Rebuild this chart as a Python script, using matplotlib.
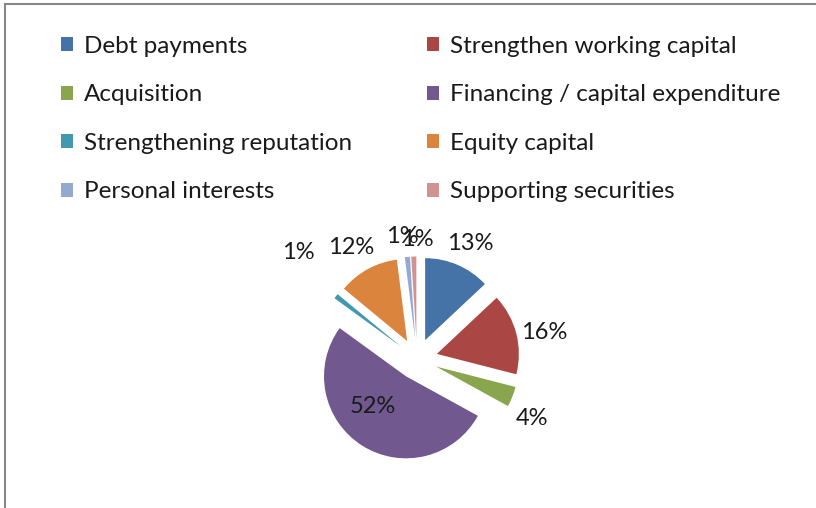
import numpy as np
import matplotlib
matplotlib.use("Agg")
import matplotlib.pyplot as plt
from matplotlib.patches import Rectangle

plt.rcParams['font.family'] = ['Lato', 'DejaVu Sans']

# data
labels = ["Debt payments", "Strengthen working capital", "Acquisition",
          "Financing / capital expenditure", "Strengthening reputation",
          "Equity capital", "Personal interests", "Supporting securities"]
shares = [13, 16, 4, 52, 1, 12, 1, 1]
colors = ["#4572A7", "#AA4643", "#89A54E", "#71588F",
          "#4198AF", "#DB843D", "#93A9CF", "#D19392"]

# label placement: distance from slice tip (radius units) and angle nudge (deg, clockwise)
label_dist = [1.30, 1.34, 1.33, 0.55, 1.70, 1.33, 1.26, 1.21]
label_nudge = [1.5, 3, 7, 15, 4.6, -1.8, -1.7, 2.4]

W, H = 816, 508
fig = plt.figure(figsize=(W / 100, H / 100), dpi=100)

# pie: centre at (417, 359) px, radius 82 px
r_px = 82
half = 150
ax = fig.add_axes([(417 - half) / W, (H - 359 - half) / H, 2 * half / W, 2 * half / H])
wedges, _ = ax.pie(shares, colors=colors, startangle=90, counterclock=False,
                   explode=[0.25] * len(shares), radius=1)
ax.set_xlim(-half / r_px, half / r_px)
ax.set_ylim(-half / r_px, half / r_px)
ax.set_aspect('equal')
ax.axis('off')

for w, s, d, n in zip(wedges, shares, label_dist, label_nudge):
    mid = np.deg2rad((w.theta1 + w.theta2) / 2 - n)
    cx, cy = w.center
    ax.text(cx + d * np.cos(mid), cy + d * np.sin(mid), f"{s}%",
            ha='center', va='center', fontsize=17, color='#1a1a1a', clip_on=False)

# legend in two columns
leg_kw = dict(loc='upper left', borderaxespad=0, borderpad=0, frameon=False,
              handlelength=0.5, handleheight=0.5, handletextpad=0.45,
              labelspacing=1.13, fontsize=17.5, labelcolor='#1a1a1a')
left = [0, 2, 4, 6]
right = [1, 3, 5, 7]
leg1 = fig.legend([wedges[i] for i in left], [labels[i] for i in left],
                  bbox_to_anchor=(61 / W, 1 - 36 / H), **leg_kw)
leg2 = fig.legend([wedges[i] for i in right], [labels[i] for i in right],
                  bbox_to_anchor=(427 / W, 1 - 36 / H), **leg_kw)

# chart area border (top and left edges visible)
fig.add_artist(Rectangle((5 / W, -0.05), 1.2, 1.05 - 4 / H, transform=fig.transFigure,
                         fill=False, ec='#878787', lw=1.5))

fig.savefig("out.png", dpi=100)
